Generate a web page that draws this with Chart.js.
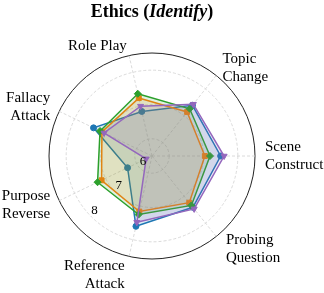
<!DOCTYPE html>
<html>
<head>
<meta charset="utf-8">
<script src="https://cdn.jsdelivr.net/npm/chart.js@4.4.1/dist/chart.umd.min.js"></script>
<style>
  html, body { margin: 0; padding: 0; background: #fff; }
  #wrap { position: relative; width: 324px; height: 293px; }
  #radar { position: absolute; left: 0; top: 0; }
  #title { position: absolute; left: 0; top: 2px; width: 304px; text-align: center;
           font: bold 18px/18px "Liberation Serif", serif; color: #000; }
</style>
</head>
<body>
<div id="wrap">
  <canvas id="radar" width="324" height="293"></canvas>
  <div id="title">Ethics (<i>Identify</i>)</div>
</div>
<script>
// categories, clockwise from the top
const categories = ['Role Play', ['Topic', 'Change'], ['Scene', 'Construct'], ['Probing', 'Question'],
                    ['Reference', 'Attack'], ['Purpose', 'Reverse'], ['Fallacy', 'Attack']];
const tickValues = [6, 7, 8];
const rMin = 5.5;
const rMax = 8.5;

const blueValues   = [6.83, 7.39, 7.50, 7.41, 7.60, 6.29, 7.39];
const orangeValues = [7.23, 7.14, 7.04, 7.24, 7.16, 7.13, 7.12];
const greenValues  = [7.36, 7.26, 7.19, 7.34, 7.25, 7.26, 7.18];
const purpleValues = [6.99, 7.43, 7.60, 7.47, 7.48, 5.69, 7.05];

function rgba(hex, a) {
  const n = parseInt(hex.slice(1), 16);
  return `rgba(${n >> 16},${(n >> 8) & 255},${n & 255},${a})`;
}

function makeSet(label, values, color, style, radius, rotation) {
  return {
    label: label,
    data: values,
    borderColor: color,
    backgroundColor: rgba(color, 0.15),
    borderWidth: 1.5,
    fill: true,
    pointStyle: style,
    pointRadius: radius,
    pointRotation: rotation,
    pointBackgroundColor: color,
    pointBorderColor: color,
    pointBorderWidth: 1
  };
}

// first dataset is drawn on top
const datasets = [
  makeSet('Series 4', purpleValues, '#9467bd', 'triangle', 3.5, 180),
  makeSet('Series 3', greenValues, '#2ca02c', 'rectRot', 3.5, 0),
  makeSet('Series 2', orangeValues, '#ff7f0e', 'rect', 3.5, 0),
  makeSet('Series 1', blueValues, '#1f77b4', 'circle', 3, 0)
];

const axisText = {
  id: 'axisText',
  afterDraw(chart) {
    const s = chart.scales.r;
    const ctx = chart.ctx;
    ctx.save();
    ctx.fillStyle = '#000';
    ctx.font = '15px "Liberation Serif"';
    ctx.textBaseline = 'middle';
    categories.forEach((lab, i) => {
      const a = s.getIndexAngle(i);
      // labels under the centre sit a little further out
      const extra = Math.max(0, -Math.cos(a) - 0.5) * 20;
      const p = s.getPointPosition(i, s.drawingArea + 10 + extra);
      const sx = Math.sin(a);
      ctx.textAlign = sx > 0.05 ? 'left' : (sx < -0.05 ? 'right' : 'center');
      const lines = [].concat(lab);
      lines.forEach((t, k) => ctx.fillText(t, p.x, p.y + (k - (lines.length - 1) / 2) * 18));
    });
    // radial tick labels along the down-left ray
    ctx.font = '13px "Liberation Serif"';
    ctx.textAlign = 'left';
    ctx.textBaseline = 'bottom';
    tickValues.forEach(v => {
      const d = s.getDistanceFromCenterForValue(v);
      ctx.fillText(String(v), s.xCenter - d * Math.SQRT1_2, s.yCenter + d * Math.SQRT1_2);
    });
    ctx.restore();
  }
};

new Chart(document.getElementById('radar'), {
  type: 'radar',
  data: { labels: categories, datasets: datasets },
  options: {
    responsive: false,
    animation: false,
    devicePixelRatio: 1,
    layout: { padding: { left: 49, right: 69, top: 53, bottom: 34 } },
    plugins: {
      legend: { display: false },
      title: { display: false },
      tooltip: { enabled: false }
    },
    scales: {
      r: {
        min: rMin,
        max: rMax,
        startAngle: 90 - 2 * 360 / categories.length,
        afterBuildTicks: s => { s.ticks = [rMin, ...tickValues, rMax].map(v => ({ value: v })); },
        ticks: { display: false },
        pointLabels: { display: false },
        grid: {
          circular: true,
          color: c => (c.tick && c.tick.value === rMax ? '#222' : '#d0d0d0'),
          lineWidth: c => (c.tick && c.tick.value === rMax ? 1 : 0.8)
        },
        border: { dash: c => (c.tick && c.tick.value === rMax ? [] : [3, 2]) },
        angleLines: { color: '#d0d0d0', lineWidth: 0.8, borderDash: [3, 2] }
      }
    }
  },
  plugins: [axisText]
});
</script>
</body>
</html>
